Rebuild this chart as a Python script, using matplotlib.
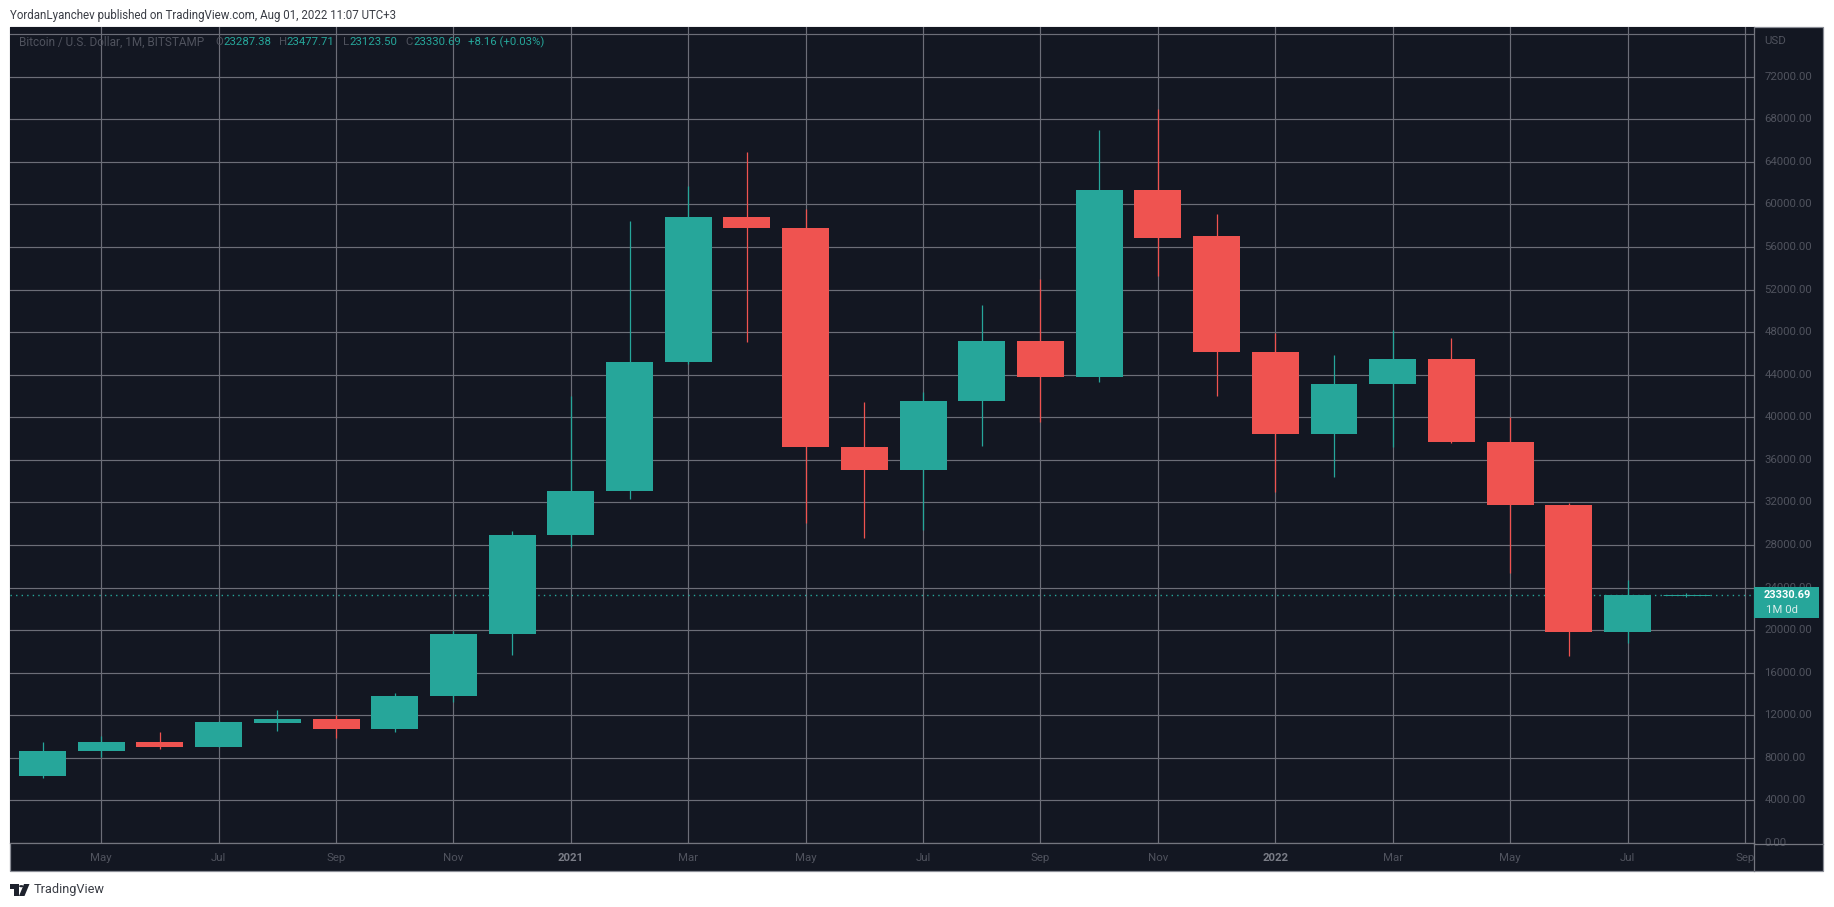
#!/usr/bin/env python3
# Bitcoin monthly candles, TradingView dark theme
import matplotlib
matplotlib.use("Agg")
import matplotlib.pyplot as plt
from matplotlib.patches import Rectangle, Polygon, Circle

W, H = 1834, 907

BG = "#131722"
GRID = "#6c6e78"
DIM = "#50535e"
UP = "#26a69a"
DOWN = "#ef5350"
AXIS_SIZE = 8.2
LEGEND_SIZE = 8.2

# Apr 2020 .. Aug 2022
opens = [6290, 8620, 9484, 9014, 11270, 11645, 10706, 13760, 19650, 28950, 33050, 45240,
         58850, 57800, 37230, 35040, 41530, 47130, 43800, 61370, 57010, 46140, 38430, 43170,
         45480, 37650, 31760, 19850, 23287.38]
closes = [8630, 9484, 9014, 11364, 11645, 10706, 13760, 19650, 28950, 33050, 45240, 58850,
          57800, 37230, 35040, 41530, 47130, 43800, 61370, 56860, 46140, 38430, 43170, 45480,
          37650, 31760, 19850, 23287, 23330.69]
highs = [9484, 10048, 10423, 11450, 12492, 12050, 14090, 19900, 29320, 42000, 58450, 61740,
         64940, 59580, 41400, 42400, 50550, 53000, 67000, 68980, 59100, 47950, 45900, 48200,
         47460, 40000, 31950, 24700, 23477.71]
lows = [6130, 8070, 8826, 8970, 10518, 9860, 10423, 13244, 17660, 27810, 32320, 45000,
        47120, 30080, 28660, 29400, 37330, 39590, 43320, 53300, 41960, 33010, 34350, 37210,
        37590, 25370, 17570, 18820, 23123.50]

time_ticks = [1, 3, 5, 7, 9, 11, 13, 15, 17, 19, 21, 23, 25, 27, 29]
time_labels = ["May", "Jul", "Sep", "Nov", "2021", "Mar", "May", "Jul", "Sep", "Nov", "2022",
               "Mar", "May", "Jul", "Sep"]
price_ticks = list(range(0, 76001, 4000))
last_price = 23330.69

plt.rcParams["font.family"] = ["Roboto", "DejaVu Sans"]


def fx(x):
    return x / W


def fy(y):
    return 1 - y / H


def label(x, y, s, color, size=LEGEND_SIZE, **kw):
    fig.text(fx(x), fy(y), s, color=color, fontsize=size, va="center", ha=kw.pop("ha", "left"), **kw)


fig = plt.figure(figsize=(W / 100, H / 100), dpi=100, facecolor="white")

# outer chart frame
fig.add_artist(Rectangle((fx(10), fy(871)), fx(1813), (871 - 27) / H, transform=fig.transFigure,
                         facecolor=BG, edgecolor="#8a8d96", linewidth=0.9, zorder=-1))

ax = fig.add_axes([fx(10), fy(843.3), fx(1744.3), (843.3 - 27) / H], facecolor=BG)
ax.set_xlim(-0.554, 29.16)
ax.set_ylim(-38, 76680)

for s in ["top", "left"]:
    ax.spines[s].set_visible(False)
for s in ["bottom", "right"]:
    ax.spines[s].set_color("#74767f")
    ax.spines[s].set_linewidth(0.9)

ax.set_xticks(time_ticks)
ax.set_xticklabels(time_labels)
ax.set_yticks(price_ticks)
ax.set_yticklabels([""] * len(price_ticks))
ax.tick_params(axis="both", length=0)
ax.tick_params(axis="x", pad=7, labelsize=AXIS_SIZE, labelcolor=DIM)
for t, s in zip(ax.get_xticklabels(), time_labels):
    if s in ("2021", "2022"):
        t.set_fontweight("bold")
        t.set_color("#7a7d87")
ax.grid(True, color=GRID, linewidth=0.85, zorder=0)
ax.set_axisbelow(True)

ax.axhline(last_price, color=UP, linewidth=1.0, linestyle=(0, (1, 3)), zorder=1.5)

for i in range(len(opens)):
    color = UP if closes[i] >= opens[i] else DOWN
    ax.vlines(i, lows[i], highs[i], color=color, linewidth=0.9, zorder=2.5)
    bottom = min(opens[i], closes[i])
    height = abs(closes[i] - opens[i])
    # very small bodies still need to show as a 1px bar
    edge = 0.7 if height < 100 else 0
    ax.bar(i, height, width=0.8, bottom=bottom, color=color, edgecolor=color, linewidth=edge, zorder=3)

# price scale labels, drawn from the same tick list
for p in price_ticks:
    if p == 76000:
        continue
    ax.annotate(f"{p}.00" if p else "0.00", (1, p), xycoords=("axes fraction", "data"), xytext=(7.2, 0),
                textcoords="offset points", color=DIM, fontsize=AXIS_SIZE, va="center", annotation_clip=False)

label(1764, 41, "USD", DIM, size=AXIS_SIZE)
# right lower corner divider
fig.add_artist(plt.Line2D([fx(1754.3)] * 2, [fy(843), fy(871)], color="#74767f", linewidth=0.9))
fig.add_artist(plt.Line2D([fx(1754.3), fx(1823)], [fy(844)] * 2, color="#74767f", linewidth=0.9))

# last price tag
fig.add_artist(Rectangle((fx(1754), fy(617.7)), fx(65), 30.7 / H, transform=fig.transFigure,
                         facecolor=UP, edgecolor="none", zorder=5))
label(1764, 595, f"{last_price:.2f}", "white", size=7.9, fontweight="bold", zorder=6)
label(1766, 610, "1M 0d", "#d8ecea", size=AXIS_SIZE, zorder=6)

# header and legend
label(10, 15, "YordanLyanchev published on TradingView.com, Aug 01, 2022 11:07 UTC+3", "#3a3d45", size=8.3)
label(18.7, 42, "Bitcoin / U.S. Dollar, 1M, BITSTAMP", DIM, size=8.5)
label(215, 42, "O", DIM)
label(223.5, 42, "23287.38", UP)
label(279, 42, "H", DIM)
label(286.6, 42, "23477.71", UP)
label(343, 42, "L", DIM)
label(349, 42, "23123.50", UP)
label(405, 42, "C", DIM)
label(413, 42, "23330.69", UP)
label(468.5, 42, "+8.16 (+0.03%)", UP)

# TradingView logo
logo = "#1e222d"
def px_poly(points):
    fig.add_artist(Polygon([(fx(x), fy(y)) for x, y in points], closed=True, transform=fig.transFigure,
                           facecolor=logo, edgecolor="none"))
px_poly([(10, 884), (19, 884), (19, 896), (14, 896), (14, 888.5), (10, 888.5)])
px_poly([(24, 884), (29.5, 884), (24.5, 896), (19, 896)])
fig.add_artist(Circle((fx(21.3), fy(886.2)), 2.2 / W, transform=fig.transFigure, facecolor=logo, edgecolor="none"))
label(34, 890, "TradingView", "#3a3d45", size=9.2)

fig.savefig("out.png", dpi=100)
